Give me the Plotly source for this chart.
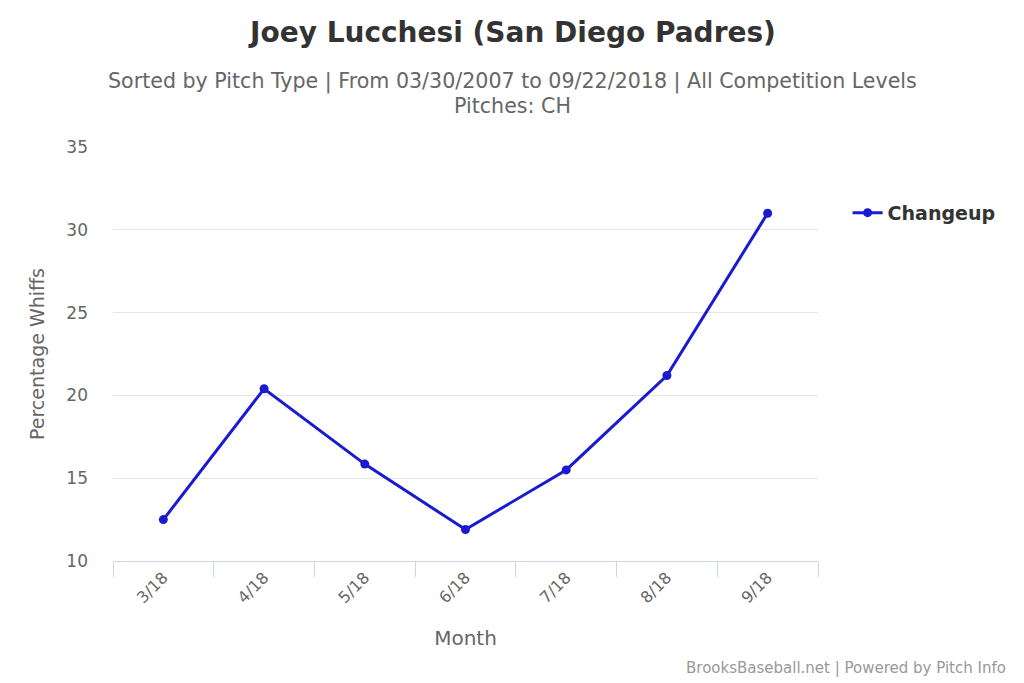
import plotly.graph_objects as go

# Dati
mesi = ["3/18", "4/18", "5/18", "6/18", "7/18", "8/18", "9/18"]
whiff_changeup = [12.5, 20.4, 15.85, 11.9, 15.5, 21.2, 31.0]

FONT = "DejaVu Sans, Verdana, sans-serif"

# la pagina html aggiunge 8px di margine al body: la figura è più piccola
W, H = 1016, 675
ML, MR, MT, MB = 105, 206, 139, 122
# spostamento per centrare i testi sulla pagina anziché sul grafico
SHIFT_CENTRO = (W / 2) - (ML + (W - ML - MR) / 2)

fig = go.Figure()
fig.add_trace(go.Scatter(
    x=mesi,
    y=whiff_changeup,
    mode="lines+markers",
    name="Changeup",
    line=dict(color="#1a1ad0", width=3),
    marker=dict(color="#1a1ad0", size=9),
))

fig.update_layout(
    width=W,
    height=H,
    paper_bgcolor="white",
    plot_bgcolor="white",
    margin=dict(l=ML, r=MR, t=MT, b=MB),
    font=dict(family=FONT, color="#666666"),
    title=dict(
        text="Joey Lucchesi (San Diego Padres)",
        x=0.497, xref="container", xanchor="center",
        y=1 - 24 / H, yref="container", yanchor="middle",
        font=dict(size=28, color="#333333", weight="bold"),
    ),
    showlegend=True,
    legend=dict(
        x=1.042, y=0.841, xanchor="left", yanchor="middle",
        itemwidth=30,
        font=dict(size=19, color="#333333", weight="bold"),
        bgcolor="rgba(0,0,0,0)",
    ),
    xaxis=dict(
        type="category",
        tickson="boundaries",
        ticks="outside",
        ticklen=15,
        tickcolor="#ccd6eb",
        showline=True,
        linecolor="#ccd6eb",
        linewidth=1,
        showgrid=False,
        tickangle=-45,
        tickfont=dict(size=16, color="#666666"),
        title=dict(text="Month", font=dict(size=20, color="#666666"), standoff=24),
        range=[-0.5, 6.5],
    ),
    yaxis=dict(
        range=[10, 35],
        dtick=5,
        showgrid=True,
        gridcolor="#e6e6e6",
        zeroline=False,
        showline=False,
        tickfont=dict(size=17, color="#666666"),
        ticklabelstandoff=24,
    ),
)

# titolo asse y come annotazione, per metterlo dove sta nell'originale
fig.add_annotation(
    text="Percentage Whiffs",
    xref="paper", yref="paper",
    x=0, xshift=-76, xanchor="center",
    y=0.5, yanchor="middle",
    textangle=-90,
    showarrow=False,
    font=dict(size=19, color="#666666"),
)

# sottotitolo centrato sulla pagina
fig.add_annotation(
    text="Sorted by Pitch Type | From 03/30/2007 to 09/22/2018 | All Competition Levels",
    xref="paper", yref="paper",
    x=0.5, xshift=SHIFT_CENTRO - 4,
    y=1.0, yanchor="middle", yshift=66,
    showarrow=False,
    font=dict(size=20.6, color="#666666"),
)
fig.add_annotation(
    text="Pitches: CH",
    xref="paper", yref="paper",
    x=0.5, xshift=SHIFT_CENTRO - 4,
    y=1.0, yanchor="middle", yshift=41,
    showarrow=False,
    font=dict(size=20.6, color="#666666"),
)

fig.add_annotation(
    text="BrooksBaseball.net | Powered by Pitch Info",
    xref="paper", yref="paper",
    x=1.0, xshift=190, xanchor="right",
    y=0, yshift=-107, yanchor="middle",
    showarrow=False,
    font=dict(size=15, color="#999999"),
)

fig.write_html("out.html")
